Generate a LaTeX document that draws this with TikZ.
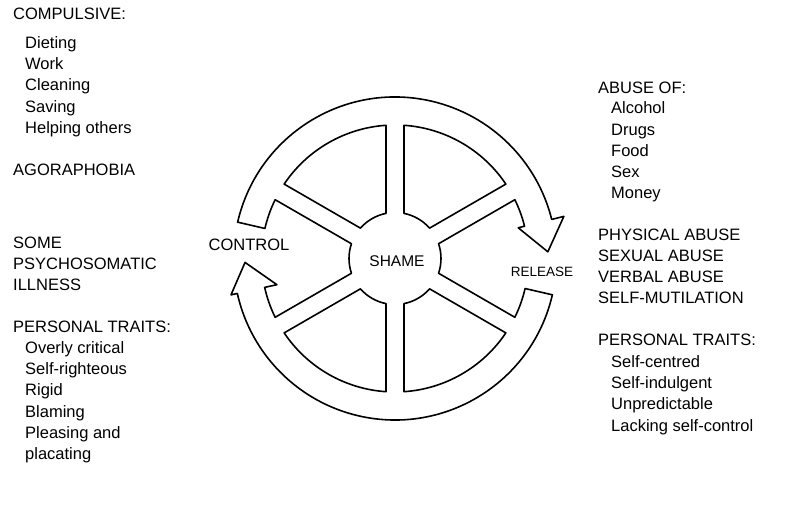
\documentclass[tikz,border=0pt]{standalone}
\usepackage{fontspec}
\setmainfont{Liberation Sans}
\begin{document}
\begin{tikzpicture}[x=1pt,y=1pt,
  wheel/.style={line width=1.6pt, line join=round},
  item/.style={anchor=base west, inner sep=0pt, font=\fontsize{16.5}{16.5}\selectfont},
  tag/.style={inner sep=0pt}]
\useasboundingbox (0,0) rectangle (788,511);

% ---- the wheel: hub, six spokes and the two curved arrows ----
\begin{scope}[shift={(395,252.5)}]
\def\Ro{161.5}
\def\Ri{133.5}
\def\Rh{46}
% outline of hub, spokes and both arrows
\draw[wheel] (167:\Ro) arc[start angle=167, end angle=14, radius=\Ro]
  -- (14:174) -- (2.5:153) -- (14:127) -- (14:\Ri)
  arc[start angle=14, end angle=26.13, radius=\Ri]
  -- (18.72:\Rh) arc[start angle=18.72, end angle=-18.72, radius=\Rh]
  -- (-26.13:\Ri) arc[start angle=-26.13, end angle=-13, radius=\Ri]
  -- (-13:\Ro) arc[start angle=-13, end angle=-167.5, radius=\Ro]
  -- (192.5:168) -- (181.5:150) -- (192.5:121) -- (192.5:\Ri)
  arc[start angle=192.5, end angle=206.13, radius=\Ri]
  -- (198.72:\Rh) arc[start angle=198.72, end angle=161.28, radius=\Rh]
  -- (153.87:\Ri) arc[start angle=153.87, end angle=167, radius=\Ri]
  -- cycle;
% the four openings between the spokes
\draw[wheel] (101.28:\Rh) arc[start angle=101.28, end angle=138.72, radius=\Rh]
  -- (146.13:\Ri) arc[start angle=146.13, end angle=93.87, radius=\Ri] -- cycle;
\draw[wheel] (41.28:\Rh) arc[start angle=41.28, end angle=78.72, radius=\Rh]
  -- (86.13:\Ri) arc[start angle=86.13, end angle=33.87, radius=\Ri] -- cycle;
\draw[wheel] (221.28:\Rh) arc[start angle=221.28, end angle=258.72, radius=\Rh]
  -- (266.13:\Ri) arc[start angle=266.13, end angle=213.87, radius=\Ri] -- cycle;
\draw[wheel] (281.28:\Rh) arc[start angle=281.28, end angle=318.72, radius=\Rh]
  -- (326.13:\Ri) arc[start angle=326.13, end angle=273.87, radius=\Ri] -- cycle;
\end{scope}

% ---- labels inside the wheel and in the list columns ----
\begin{scope}[yshift=511pt, y=-1pt]
\node[tag, font=\fontsize{15.5}{15.5}\selectfont] (shame) at (397,261) {SHAME};
\node[tag, font=\fontsize{16.5}{16.5}\selectfont] (control) at (249,245) {CONTROL};
\node[tag, font=\fontsize{13.5}{13.5}\selectfont] (release) at (542,272) {RELEASE};

% left column
\node[item] (l0)  at (13,20)  {COMPULSIVE:};
\node[item] (l1)  at (25,49)  {Dieting};
\node[item] (l2)  at (25,70)  {Work};
\node[item] (l3)  at (25,91)  {Cleaning};
\node[item] (l4)  at (25,113) {Saving};
\node[item] (l5)  at (25,134) {Helping others};
\node[item] (l7)  at (13,176) {AGORAPHOBIA};
\node[item] (l9)  at (13,249) {SOME};
\node[item] (l10) at (13,270) {PSYCHOSOMATIC};
\node[item] (l11) at (13,291) {ILLNESS};
\node[item] (l13) at (13,333) {PERSONAL TRAITS:};
\node[item] (l14) at (25,354) {Overly critical};
\node[item] (l15) at (25,375) {Self-righteous};
\node[item] (l16) at (25,396) {Rigid};
\node[item] (l17) at (25,418) {Blaming};
\node[item] (l18) at (25,439) {Pleasing and};
\node[item] (l19) at (25,460) {placating};

% right column
\node[item] (r0)  at (598,94)  {ABUSE OF:};
\node[item] (r1)  at (611,114) {Alcohol};
\node[item] (r2)  at (611,136) {Drugs};
\node[item] (r3)  at (611,157) {Food};
\node[item] (r4)  at (611,178) {Sex};
\node[item] (r5)  at (611,199) {Money};
\node[item] (r7)  at (598,241) {PHYSICAL ABUSE};
\node[item] (r8)  at (598,262) {SEXUAL ABUSE};
\node[item] (r9)  at (598,283) {VERBAL ABUSE};
\node[item] (r10) at (598,304) {SELF-MUTILATION};
\node[item] (r12) at (598,346) {PERSONAL TRAITS:};
\node[item] (r13) at (611,368) {Self-centred};
\node[item] (r14) at (611,389) {Self-indulgent};
\node[item] (r15) at (611,410) {Unpredictable};
\node[item] (r16) at (611,432) {Lacking self-control};
\end{scope}
\end{tikzpicture}
\end{document}
